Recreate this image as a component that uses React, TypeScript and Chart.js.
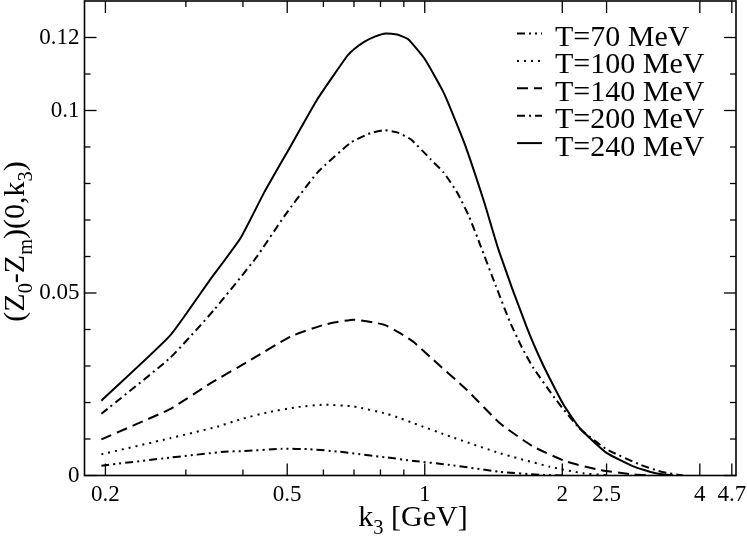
import React, { useEffect, useRef } from "react";
import { Chart, registerables } from "chart.js";

Chart.register(...registerables);

const FONT = '"Liberation Serif", "Times New Roman", serif';

const seriesLabels = ["T=70 MeV", "T=100 MeV", "T=140 MeV", "T=200 MeV", "T=240 MeV"];

const k70 = [0.196, 0.277, 0.364, 0.401, 0.487, 0.561, 0.652, 0.819, 0.947, 1.136, 1.461, 1.79, 2.0];
const z70 = [0.0027, 0.0049, 0.0065, 0.0067, 0.0073, 0.0072, 0.0065, 0.005, 0.004, 0.0029, 0.001, 0.0002, 0.0];

const k100 = [0.196, 0.277, 0.352, 0.395, 0.453, 0.53, 0.6, 0.7, 0.826, 0.883, 0.947, 1.136, 1.461, 1.878, 2.22, 2.5];
const z100 = [0.0058, 0.0102, 0.0134, 0.0154, 0.0173, 0.0188, 0.0194, 0.0189, 0.0169, 0.0157, 0.0143, 0.0107, 0.0061, 0.0024, 0.0006, 0.0001];

const k140 = [0.196, 0.277, 0.34, 0.4165, 0.509, 0.602, 0.7, 0.815, 0.883, 0.947, 1.044, 1.235, 1.461, 1.728, 2.044, 2.417, 2.86, 3.1];
const z140 = [0.0099, 0.0182, 0.0253, 0.0317, 0.0381, 0.0413, 0.0427, 0.0413, 0.039, 0.0365, 0.0317, 0.0235, 0.0143, 0.0079, 0.0038, 0.0015, 0.0003, 0.0];

const k200 = [0.196, 0.277, 0.346, 0.427, 0.4925, 0.582, 0.689, 0.76, 0.815, 0.87, 0.932, 1.031, 1.1, 1.178, 1.25, 1.326, 1.43, 1.537, 1.63, 1.728, 1.944, 2.185, 2.5, 2.956, 3.3, 3.68];
const z200 = [0.0169, 0.0322, 0.0454, 0.0596, 0.071, 0.083, 0.0912, 0.0938, 0.0946, 0.094, 0.0921, 0.0866, 0.083, 0.0775, 0.071, 0.0628, 0.052, 0.042, 0.0352, 0.0295, 0.0205, 0.0128, 0.0072, 0.003, 0.001, 0.0];

const k240 = [0.196, 0.277, 0.337, 0.395, 0.445, 0.509, 0.582, 0.677, 0.70, 0.737, 0.78, 0.822, 0.87, 0.92, 1.0, 1.1, 1.22, 1.35, 1.45, 1.67, 1.82, 2.01, 2.19, 2.5, 2.86, 3.2, 3.5];
const z240 = [0.0205, 0.0383, 0.0532, 0.065, 0.0775, 0.0903, 0.1031, 0.115, 0.1168, 0.1188, 0.1203, 0.1211, 0.1208, 0.1195, 0.1141, 0.1049, 0.0912, 0.0748, 0.0619, 0.0408, 0.030, 0.0195, 0.0128, 0.0062, 0.0025, 0.0006, 0.0];

const xTickValues = [0.2, 0.3, 0.4, 0.5, 0.6, 0.7, 0.8, 0.9, 1, 2, 2.5, 4, 4.7];
const xTickLabels = ["0.2", "", "", "0.5", "", "", "", "", "1", "2", "2.5", "4", "4.7"];
const yTickValues = [0, 0.01, 0.02, 0.03, 0.04, 0.05, 0.06, 0.07, 0.08, 0.09, 0.1, 0.11, 0.12];
const yTickLabels = ["0", "", "", "", "", "0.05", "", "", "", "", "0.1", "", "0.12"];

const dashes: number[][] = [
  [8, 4, 2, 4, 2, 4],
  [2, 5],
  [11, 6],
  [8, 4, 2, 4],
  [],
];

function toPoints(ks: number[], zs: number[]) {
  return ks.map((k, i) => ({ x: k, y: zs[i] }));
}

type Seg = { t: string; sub?: boolean };

function drawRich(ctx: CanvasRenderingContext2D, segs: Seg[], size: number) {
  const subSize = size * 0.68;
  const widths = segs.map((s) => {
    ctx.font = `${s.sub ? subSize : size}px ${FONT}`;
    return ctx.measureText(s.t).width;
  });
  const total = widths.reduce((a, b) => a + b, 0);
  let x = -total / 2;
  ctx.textBaseline = "alphabetic";
  ctx.textAlign = "left";
  segs.forEach((s, i) => {
    ctx.font = `${s.sub ? subSize : size}px ${FONT}`;
    ctx.fillText(s.t, x, s.sub ? size * 0.25 : 0);
    x += widths[i];
  });
}

const decorPlugin = {
  id: "decor",
  afterDraw(chart: any) {
    const { ctx, chartArea: a, scales } = chart;
    ctx.save();
    ctx.strokeStyle = "#000";
    ctx.fillStyle = "#000";
    ctx.lineWidth = 1.6;
    ctx.setLineDash([]);
    ctx.strokeRect(a.left, a.top, a.right - a.left, a.bottom - a.top);
    ctx.lineWidth = 1.3;
    const line = (x1: number, y1: number, x2: number, y2: number) => {
      ctx.beginPath();
      ctx.moveTo(x1, y1);
      ctx.lineTo(x2, y2);
      ctx.stroke();
    };
    xTickValues.forEach((v, i) => {
      const px = scales.x.getPixelForValue(v);
      const len = xTickLabels[i] ? 12 : 6;
      line(px, a.bottom, px, a.bottom - len);
      line(px, a.top, px, a.top + len);
    });
    yTickValues.forEach((v, i) => {
      const py = scales.y.getPixelForValue(v);
      const len = yTickLabels[i] ? 12 : 6;
      line(a.left, py, a.left + len, py);
      line(a.right, py, a.right - len, py);
    });
    chart.data.datasets.forEach((ds: any, i: number) => {
      const base = 46 + i * 27.4;
      const ly = base - 12.5;
      ctx.lineWidth = 2;
      ctx.setLineDash(ds.borderDash || []);
      line(517, ly, 542, ly);
      ctx.setLineDash([]);
      ctx.font = `30px ${FONT}`;
      ctx.textAlign = "left";
      ctx.textBaseline = "alphabetic";
      ctx.fillText(ds.label, 555, base);
    });
    ctx.save();
    ctx.translate(413, 526);
    drawRich(ctx, [{ t: "k" }, { t: "3", sub: true }, { t: " [GeV]" }], 30);
    ctx.restore();
    ctx.save();
    ctx.translate(24, 241.5);
    ctx.rotate(-Math.PI / 2);
    drawRich(
      ctx,
      [
        { t: "(Z" },
        { t: "0", sub: true },
        { t: "-Z" },
        { t: "m", sub: true },
        { t: ")(0,k" },
        { t: "3", sub: true },
        { t: ")" },
      ],
      30
    );
    ctx.restore();
    ctx.restore();
  },
};

export default function App() {
  const ref = useRef<HTMLCanvasElement | null>(null);
  useEffect(() => {
    if (!ref.current) return;
    const series = [
      [k70, z70],
      [k100, z100],
      [k140, z140],
      [k200, z200],
      [k240, z240],
    ];
    const chart = new Chart(ref.current, {
      type: "line",
      data: {
        datasets: series.map(([ks, zs], i) => ({
          label: seriesLabels[i],
          data: toPoints(ks, zs),
          borderColor: "#000",
          backgroundColor: "#000",
          borderWidth: 2,
          borderDash: dashes[i],
          pointRadius: 0,
          fill: false,
          tension: 0.15,
        })),
      },
      plugins: [decorPlugin],
      options: {
        responsive: false,
        animation: false,
        devicePixelRatio: 1,
        layout: { padding: { left: 0, right: 11, top: 1, bottom: 0 } },
        plugins: {
          legend: { display: false },
          tooltip: { enabled: false },
          title: { display: false },
        },
        scales: {
          x: {
            type: "logarithmic",
            min: 0.18,
            max: 4.8,
            afterBuildTicks: (scale: any) => {
              scale.ticks = xTickValues.map((v) => ({ value: v }));
            },
            afterFit: (scale: any) => {
              scale.height = 61.5;
              scale.paddingLeft = 0;
              scale.paddingRight = 0;
            },
            grid: { display: false, drawTicks: false },
            border: { display: false },
            ticks: {
              autoSkip: false,
              maxRotation: 0,
              minRotation: 0,
              padding: 6,
              color: "#000",
              font: { family: FONT, size: 23 },
              callback: (_v: any, i: number) => xTickLabels[i],
            },
          },
          y: {
            type: "linear",
            min: 0,
            max: 0.13,
            afterBuildTicks: (scale: any) => {
              scale.ticks = yTickValues.map((v) => ({ value: v }));
            },
            afterFit: (scale: any) => {
              scale.width = 84.5;
              scale.paddingTop = 0;
              scale.paddingBottom = 0;
            },
            grid: { display: false, drawTicks: false },
            border: { display: false },
            ticks: {
              autoSkip: false,
              padding: 5,
              color: "#000",
              font: { family: FONT, size: 23 },
              callback: (_v: any, i: number) => yTickLabels[i],
            },
          },
        },
      },
    } as any);
    return () => chart.destroy();
  }, []);
  return (
    <div style={{ position: "fixed", left: 0, top: 0, width: 747, height: 537, background: "#fff" }}>
      <canvas ref={ref} width={747} height={537} style={{ display: "block" }} />
    </div>
  );
}
